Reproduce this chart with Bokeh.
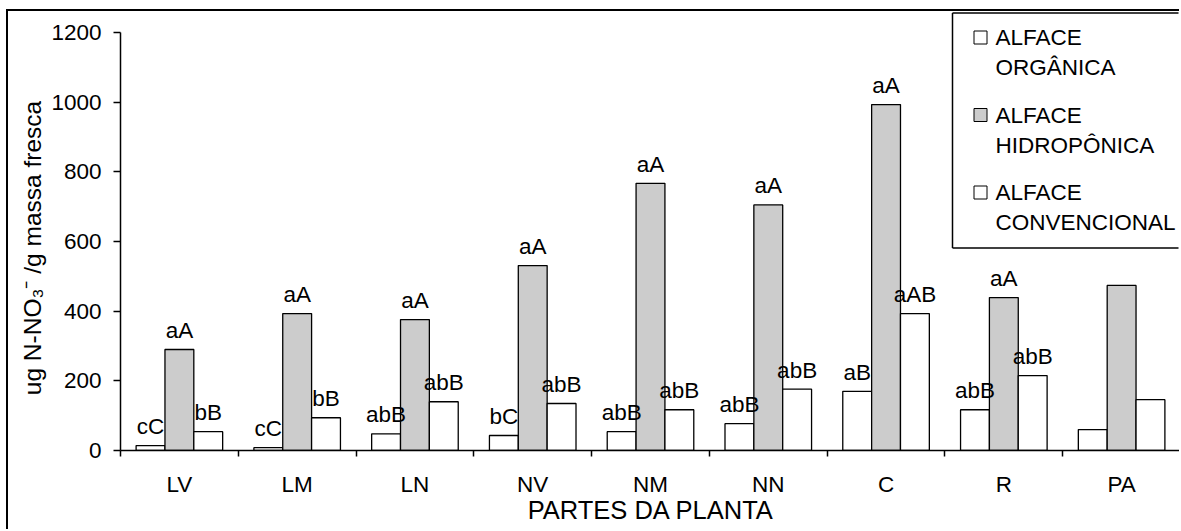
import numpy as np
from bokeh.plotting import figure
from bokeh.models import Range1d, FixedTicker
from bokeh.core.properties import value
from bokeh.embed import file_html
from bokeh.resources import INLINE

# ---------------- data ----------------
categories = ["LV", "LM", "LN", "NV", "NM", "NN", "C", "R", "PA"]
organica = [14, 8, 48, 43, 54, 77, 170, 117, 60]
hidroponica = [290, 393, 376, 531, 767, 705, 993, 439, 474]
convencional = [54, 94, 140, 135, 117, 176, 393, 215, 146]
lab_organica = ["cC", "cC", "abB", "bC", "abB", "abB", "aB", "abB", ""]
lab_hidroponica = ["aA", "aA", "aA", "aA", "aA", "aA", "aA", "aA", ""]
lab_convencional = ["bB", "bB", "abB", "abB", "abB", "abB", "aAB", "abB", ""]
series_names = [("ALFACE", "ORGÂNICA"), ("ALFACE", "HIDROPÔNICA"), ("ALFACE", "CONVENCIONAL")]
y_ticks = [0, 200, 400, 600, 800, 1000, 1200]
y_title = "ug N-NO₃⁻ /g massa fresca"
x_title = "PARTES DA PLANTA"

FONT = "Liberation Sans"
FS = "22.5px"
FS_T = "25.5px"
FS_Y = "24.5px"
GREY = "#cccccc"

# canvas placement on the page (margin + 2px picture border)
OX, OY = 8, 11
W, H = 1181 - OX, 531 - OY
# page-pixel geometry
FL, FB = 120, 450          # frame left, frame bottom (y = 0)
Y1200 = 32                 # page y of the 1200 tick
XR = 1180                  # page x of the last category boundary
FT = OY                    # frame top (page)
FRp = OX + W               # frame right (page)

ypx = (FB - Y1200) / 1200.0
cpx = (XR - FL) / 9.0
y_end = (FB - FT) / ypx
x_end = -0.5 + (FRp - FL) / cpx

p = figure(width=W, height=H, output_backend="svg", toolbar_location=None,
           x_range=Range1d(-0.5, x_end), y_range=Range1d(0, y_end),
           min_border_left=FL - OX, min_border_right=0,
           min_border_top=0, min_border_bottom=H - (FB - OY))
p.styles = {"margin-left": "6px", "margin-top": "9px",
            "border-left": "2px solid black", "border-top": "2px solid black"}
p.grid.visible = False
p.outline_line_color = None
p.background_fill_color = "white"
p.border_fill_color = "white"

n = len(categories)
xs = np.arange(n)
bw = 0.245

def px2x(px):
    return -0.5 + (px - FL) / cpx

def py2y(py):
    return (FB - py) / ypx

# bars
p.vbar(x=xs - bw, top=organica, width=bw, fill_color="white", line_color="black", line_width=1.3)
p.vbar(x=xs, top=hidroponica, width=bw, fill_color=GREY, line_color="black", line_width=1.3)
p.vbar(x=xs + bw, top=convencional, width=bw, fill_color="white", line_color="black", line_width=1.3)

# letters above bars
for off, vals, labs in [(-bw, organica, lab_organica), (0, hidroponica, lab_hidroponica),
                        (bw, convencional, lab_convencional)]:
    p.text(x=xs + off, y=vals, text=labs, text_align="center", text_baseline="alphabetic",
           y_offset=-19, text_font=value(FONT), text_font_size=value(FS), text_color="black")

# x axis
xa = p.xaxis[0]
xa.bounds = (-0.5, 8.5)
xa.ticker = FixedTicker(ticks=list(range(n)), minor_ticks=[i - 0.5 for i in range(n + 1)])
xa.major_label_overrides = {i: c for i, c in enumerate(categories)}
xa.major_tick_out = 0
xa.major_tick_in = 0
xa.minor_tick_out = 6
xa.minor_tick_in = 0
xa.minor_tick_line_color = "black"
xa.minor_tick_line_width = 1.5
xa.axis_line_color = "black"
xa.axis_line_width = 1.5
xa.major_label_standoff = 15
xa.major_label_text_font = FONT
xa.major_label_text_font_size = FS
xa.major_label_text_color = "black"
xa.axis_label = x_title
xa.axis_label_text_font = FONT
xa.axis_label_text_font_size = FS_T
xa.axis_label_text_font_style = "normal"
xa.axis_label_text_color = "black"
xa.axis_label_standoff = -4

# y axis (trailing no-break spaces centre the title on the 0-1200 span)
ya = p.yaxis[0]
ya.bounds = (0, 1200)
ya.ticker = FixedTicker(ticks=y_ticks)
ya.major_tick_out = 7
ya.major_tick_in = 0
ya.minor_tick_out = 0
ya.minor_tick_in = 0
ya.major_tick_line_color = "black"
ya.major_tick_line_width = 1.5
ya.axis_line_color = "black"
ya.axis_line_width = 1.5
ya.major_label_standoff = 12
ya.major_label_text_font = FONT
ya.major_label_text_font_size = FS
ya.major_label_text_color = "black"
ya.axis_label = y_title + "\u00a0" * 5
ya.axis_label_text_font = FONT
ya.axis_label_text_font_size = FS_Y
ya.axis_label_text_font_style = "normal"
ya.axis_label_text_color = "black"
ya.axis_label_standoff = 2

# legend (drawn inside the frame, which reaches the top/right edges)
lg_l, lg_t, lg_b = px2x(952), py2y(12.5), py2y(247.5)
lg_r = px2x(1178)
p.quad(left=[lg_l], right=[lg_r], top=[lg_t], bottom=[lg_b],
       fill_color="white", line_color=None)
p.segment(x0=[lg_l, lg_l, lg_l], y0=[lg_t, lg_b, lg_t], x1=[lg_l, lg_r, lg_r], y1=[lg_b, lg_b, lg_t],
          line_color="black", line_width=1.5)
fills = ["white", GREY, "white"]
sq_l, sq_r, sq_t, sq_b, fc = [], [], [], [], []
tx, ty, tt = [], [], []
for k, (l1, l2) in enumerate(series_names):
    c1 = 37 + k * 77.5
    c2 = c1 + 30
    sq_l.append(px2x(973.5)); sq_r.append(px2x(986.5))
    sq_t.append(py2y(c1 - 6.5)); sq_b.append(py2y(c1 + 6.5)); fc.append(fills[k])
    for txt, cy in [(l1, c1), (l2, c2)]:
        tx.append(px2x(995)); ty.append(py2y(cy)); tt.append(txt)
p.quad(left=sq_l, right=sq_r, top=sq_t, bottom=sq_b, fill_color=fc, line_color="black",
       line_width=1)
p.text(x=tx, y=ty, text=tt, text_align="left", text_baseline="middle",
       text_font=value(FONT), text_font_size=value(FS), text_color="black")

open("out.html", "w").write(file_html(p, INLINE))
